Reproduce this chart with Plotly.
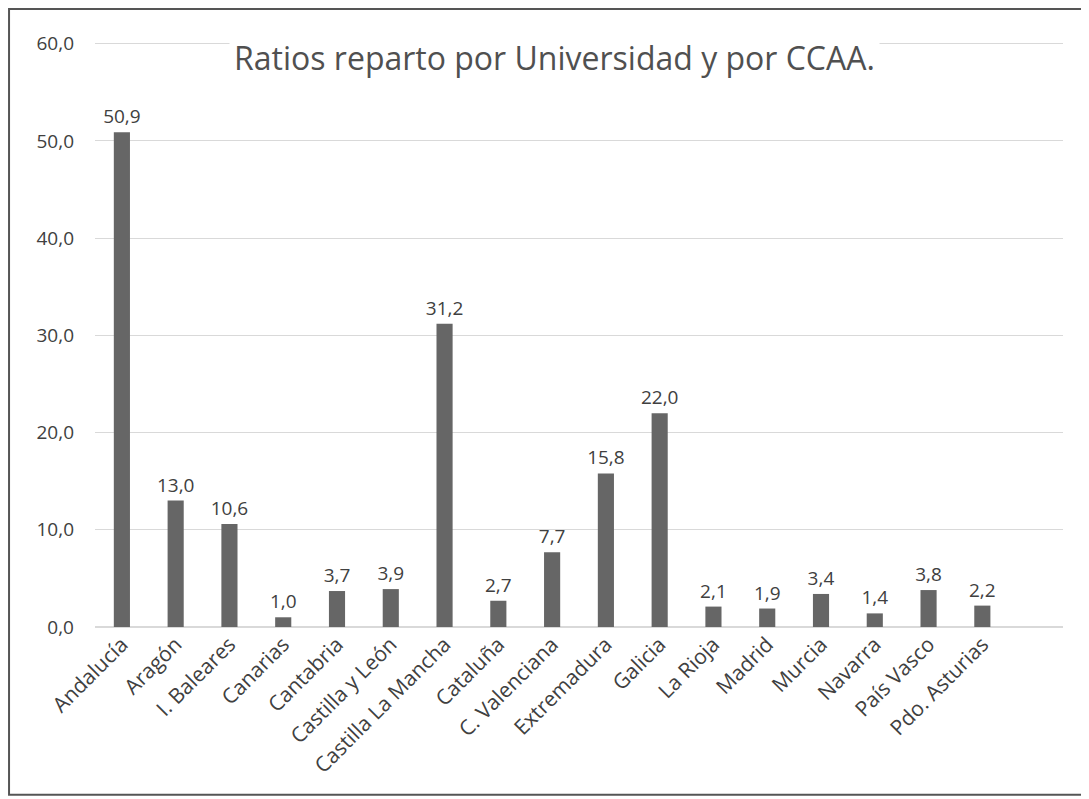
import plotly.graph_objects as go

regiones = ['Andalucía', 'Aragón', 'I. Baleares', 'Canarias', 'Cantabria', 'Castilla y León',
            'Castilla La Mancha', 'Cataluña', 'C. Valenciana', 'Extremadura', 'Galicia',
            'La Rioja', 'Madrid', 'Murcia', 'Navarra', 'País Vasco', 'Pdo. Asturias']
ratios = [50.9, 13.0, 10.6, 1.0, 3.7, 3.9, 31.2, 2.7, 7.7, 15.8, 22.0,
          2.1, 1.9, 3.4, 1.4, 3.8, 2.2]
y_ticks = [0, 10, 20, 30, 40, 50, 60]

font = 'Open Sans'
txt = '#404040'

fig = go.Figure(go.Bar(
    x=regiones, y=ratios, width=0.3,
    marker=dict(color='#666666', line=dict(width=0)),
    texttemplate='%{y:.1f}', textposition='outside', cliponaxis=False,
    constraintext='none',
    textfont=dict(family=font, size=19, color=txt),
))

fig.update_layout(
    width=1089, height=799,
    margin=dict(l=87, r=34, t=26, b=180),
    paper_bgcolor='white', plot_bgcolor='white',
    separators=',.',
    showlegend=False,
    font=dict(family=font, color=txt),
    xaxis=dict(range=[-0.5, 17.5], tickangle=-45, tickfont=dict(size=21, color=txt),
               showline=False, showgrid=False, ticks=''),
    yaxis=dict(range=[0, 61], tickvals=y_ticks, tickformat='.1f',
               tickfont=dict(size=19, color=txt), showgrid=True, gridcolor='#d9d9d9',
               gridwidth=1, zeroline=True, zerolinecolor='#d9d9d9', ticklabelstandoff=20),
    annotations=[dict(text='Ratios reparto por Universidad y por CCAA.', xref='paper', yref='paper',
                      x=0.475, y=0.961, xanchor='center', yanchor='middle', showarrow=False,
                      bgcolor='white', borderpad=4,
                      font=dict(family=font, size=32, color='#505050'))],
    shapes=[dict(type='rect', xref='paper', yref='paper', x0=-0.0888, x1=1.0227,
                 y0=-0.283, y1=1.042, line=dict(color='#555555', width=2))],
)

fig.write_html('out.html')
